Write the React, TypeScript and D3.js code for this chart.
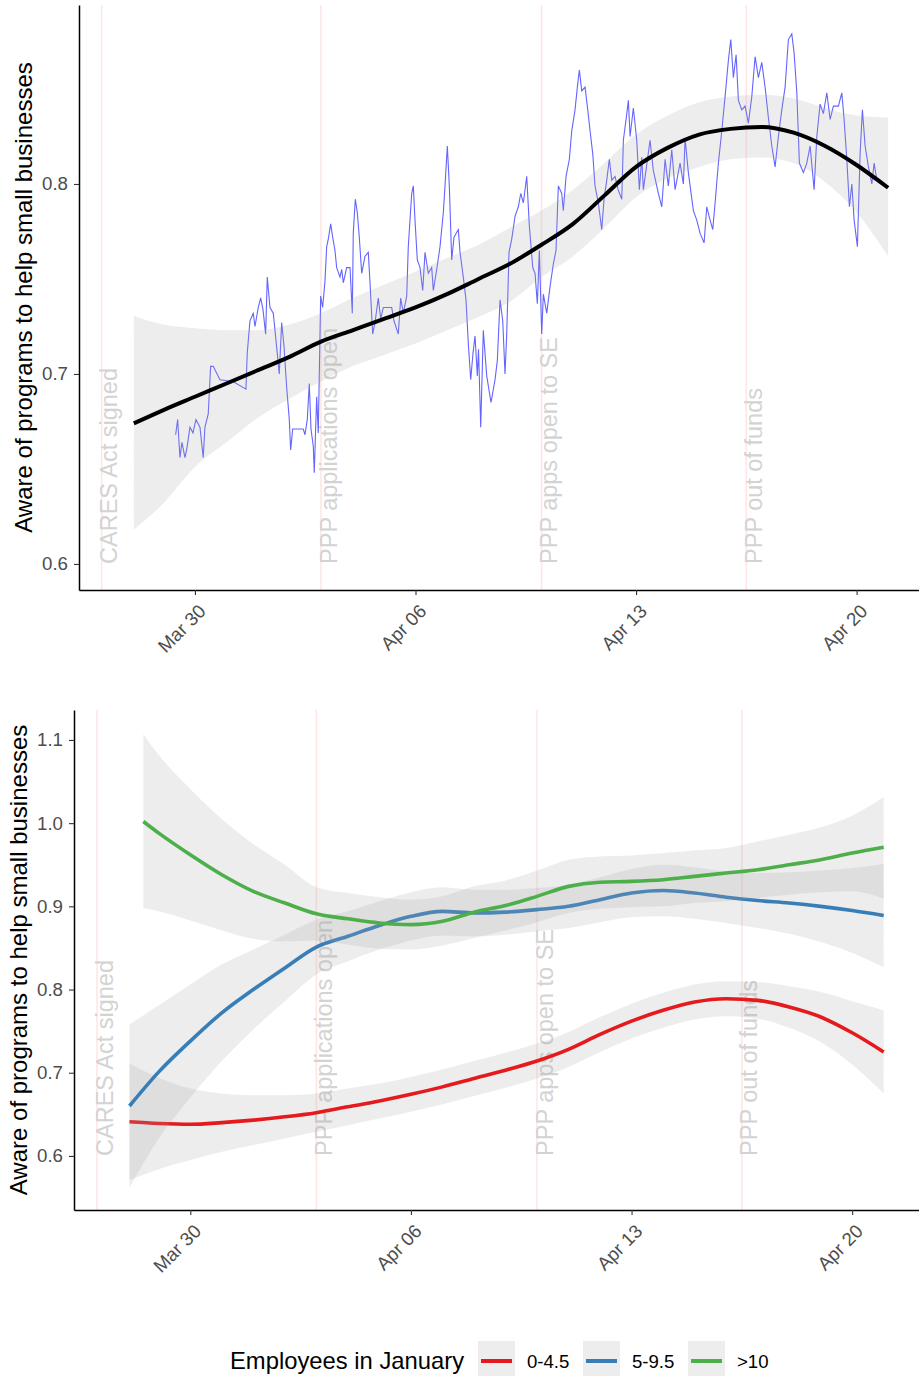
import React, { useEffect, useRef } from 'react';
import * as d3 from 'd3';

const FONT = '"Liberation Sans", Arial, Helvetica, sans-serif';
const W = 919;
const H = 1376;

// all x values are days counted from Mar 30 2020 (UTC)
const BASE = Date.UTC(2020, 2, 30);
const toDate = (d: number) => new Date(BASE + d * 864e5);

const eventLabels = ['CARES Act signed', 'PPP applications open', 'PPP apps open to SE', 'PPP out of funds'];
const eventDays = [-2.96, 4, 11, 17.5];

const tickDays = [0, 7, 14, 21];
const topYTicks = [0.6, 0.7, 0.8];
const bottomYTicks = [0.6, 0.7, 0.8, 0.9, 1.0, 1.1];
const yTitle = 'Aware of programs to help small businesses';
const legendTitle = 'Employees in January';

// raw rolling share, all respondents
const rawDays = [
  -0.613, -0.549, -0.476, -0.413, -0.317, -0.254, -0.159, -0.063, 0.032, 0.159,
  0.263, 0.317, 0.422, 0.498, 0.581, 0.794, 1.206, 1.619, 1.660, 1.746,
  1.851, 1.905, 2.010, 2.086, 2.159, 2.244, 2.295, 2.381, 2.486, 2.594,
  2.676, 2.752, 2.825, 2.911, 2.994, 3.038, 3.102, 3.438, 3.492, 3.565,
  3.629, 3.683, 3.756, 3.787, 3.863, 3.914, 3.990, 4.054, 4.127, 4.181,
  4.232, 4.308, 4.371, 4.444, 4.498, 4.603, 4.657, 4.708, 4.816, 4.921,
  4.994, 5.025, 5.089, 5.152, 5.216, 5.292, 5.397, 5.502, 5.556, 5.641,
  5.714, 5.819, 5.895, 5.978, 6.244, 6.317, 6.454, 6.530, 6.613, 6.721,
  6.771, 6.879, 6.930, 6.984, 7.057, 7.143, 7.229, 7.302, 7.406, 7.514,
  7.565, 7.673, 7.778, 7.883, 7.937, 8.010, 8.073, 8.149, 8.222, 8.359,
  8.413, 8.517, 8.603, 8.676, 8.752, 8.825, 8.889, 8.962, 9.000, 9.070,
  9.152, 9.260, 9.397, 9.524, 9.597, 9.683, 9.768, 9.841, 9.895, 9.968,
  10.054, 10.159, 10.263, 10.340, 10.422, 10.530, 10.613, 10.721, 10.794, 10.867,
  10.930, 11.006, 11.057, 11.165, 11.270, 11.375, 11.460, 11.533, 11.641, 11.692,
  11.778, 11.883, 11.959, 12.063, 12.137, 12.200, 12.276, 12.381, 12.454, 12.540,
  12.625, 12.698, 12.803, 12.911, 12.984, 13.070, 13.152, 13.229, 13.333, 13.429,
  13.546, 13.597, 13.683, 13.756, 13.810, 13.914, 14.022, 14.105, 14.181, 14.232,
  14.444, 14.549, 14.708, 14.816, 14.921, 15.025, 15.133, 15.238, 15.397, 15.502,
  15.556, 15.660, 15.819, 15.927, 16.032, 16.159, 16.244, 16.349, 16.435, 16.508,
  16.613, 16.721, 16.825, 16.930, 17.006, 17.089, 17.175, 17.248, 17.356, 17.460,
  17.565, 17.673, 17.778, 17.883, 17.990, 18.095, 18.200, 18.308, 18.413, 18.517,
  18.625, 18.730, 18.835, 18.943, 19.016, 19.102, 19.184, 19.311, 19.419, 19.524,
  19.651, 19.737, 19.841, 19.946, 20.054, 20.159, 20.263, 20.422, 20.530, 20.603,
  20.689, 20.771, 20.848, 20.921, 21.025, 21.111, 21.184, 21.270, 21.375, 21.483,
  21.556, 21.641,
];
const rawAware = [
  0.668, 0.676, 0.656, 0.664, 0.656, 0.661, 0.672, 0.669, 0.676, 0.672,
  0.656, 0.672, 0.679, 0.704, 0.704, 0.697, 0.696, 0.692, 0.711, 0.728,
  0.732, 0.725, 0.735, 0.740, 0.734, 0.721, 0.751, 0.735, 0.732, 0.714,
  0.700, 0.727, 0.715, 0.693, 0.676, 0.660, 0.671, 0.671, 0.668, 0.676,
  0.695, 0.671, 0.662, 0.648, 0.688, 0.669, 0.741, 0.735, 0.749, 0.767,
  0.771, 0.779, 0.772, 0.765, 0.756, 0.751, 0.755, 0.748, 0.756, 0.756,
  0.732, 0.774, 0.792, 0.785, 0.772, 0.753, 0.762, 0.764, 0.748, 0.721,
  0.727, 0.740, 0.729, 0.735, 0.735, 0.728, 0.721, 0.740, 0.732, 0.741,
  0.767, 0.795, 0.799, 0.781, 0.760, 0.756, 0.744, 0.764, 0.753, 0.756,
  0.744, 0.755, 0.767, 0.785, 0.799, 0.820, 0.799, 0.760, 0.772, 0.776,
  0.764, 0.751, 0.739, 0.716, 0.697, 0.711, 0.720, 0.699, 0.713, 0.672,
  0.723, 0.699, 0.685, 0.697, 0.707, 0.739, 0.728, 0.700, 0.721, 0.764,
  0.771, 0.783, 0.788, 0.795, 0.790, 0.804, 0.778, 0.756, 0.753, 0.737,
  0.765, 0.721, 0.742, 0.732, 0.746, 0.758, 0.765, 0.799, 0.795, 0.786,
  0.804, 0.813, 0.828, 0.839, 0.851, 0.860, 0.849, 0.851, 0.841, 0.828,
  0.816, 0.799, 0.790, 0.776, 0.792, 0.802, 0.813, 0.802, 0.804, 0.797,
  0.792, 0.823, 0.834, 0.844, 0.825, 0.840, 0.823, 0.797, 0.814, 0.797,
  0.823, 0.807, 0.795, 0.788, 0.813, 0.799, 0.818, 0.797, 0.811, 0.800,
  0.824, 0.806, 0.786, 0.781, 0.774, 0.769, 0.788, 0.781, 0.776, 0.790,
  0.811, 0.828, 0.846, 0.865, 0.876, 0.856, 0.868, 0.844, 0.839, 0.841,
  0.832, 0.846, 0.867, 0.856, 0.864, 0.851, 0.835, 0.820, 0.809, 0.825,
  0.839, 0.851, 0.876, 0.879, 0.869, 0.848, 0.811, 0.806, 0.811, 0.820,
  0.797, 0.825, 0.842, 0.837, 0.848, 0.834, 0.841, 0.841, 0.848, 0.834,
  0.813, 0.788, 0.800, 0.781, 0.767, 0.816, 0.839, 0.820, 0.809, 0.800,
  0.811, 0.802,
];

// smooth fit, all respondents
const fitDays = [-1.94, -1, 0, 1, 2, 3, 4, 5, 6, 7, 8, 9, 10, 11, 12, 13, 14, 15, 16, 17, 18, 19, 20, 21, 22];
const fitAll = [0.674, 0.681, 0.688, 0.695, 0.702, 0.709, 0.717, 0.723, 0.729, 0.735, 0.742, 0.750, 0.758, 0.768, 0.779, 0.794, 0.809, 0.819, 0.826, 0.829, 0.830, 0.827, 0.820, 0.810, 0.798];
const upperAll = [0.7305, 0.726, 0.724, 0.723, 0.723, 0.726, 0.732, 0.740, 0.747, 0.754, 0.761, 0.768, 0.777, 0.786, 0.797, 0.811, 0.826, 0.836, 0.843, 0.846, 0.847, 0.845, 0.840, 0.836, 0.835];
const lowerAll = [0.618, 0.632, 0.651, 0.664, 0.677, 0.687, 0.696, 0.704, 0.710, 0.716, 0.723, 0.730, 0.738, 0.751, 0.762, 0.777, 0.793, 0.803, 0.809, 0.813, 0.814, 0.811, 0.801, 0.785, 0.762];

// smooth fits by firm size
const groupNames = ['0-4.5', '5-9.5', '>10'];
const groupColors = ['#E41A1C', '#377EB8', '#4DAF4A'];
const sizeDays = [-1.93, -1, 0, 1, 2, 3, 4, 5, 6, 7, 8, 9, 10, 11, 12, 13, 14, 15, 16, 17, 18, 19, 20, 21, 22];
const largeDays = [-1.49, -1, 0, 1, 2, 3, 4, 5, 6, 7, 8, 9, 10, 11, 12, 13, 14, 15, 16, 17, 18, 19, 20, 21, 22];

const fitSmall = [0.641, 0.639, 0.638, 0.640, 0.643, 0.647, 0.652, 0.659, 0.666, 0.674, 0.683, 0.693, 0.703, 0.714, 0.728, 0.746, 0.762, 0.775, 0.785, 0.789, 0.787, 0.779, 0.767, 0.748, 0.725];
const upperSmall = [0.711, 0.694, 0.681, 0.675, 0.673, 0.673, 0.675, 0.681, 0.687, 0.695, 0.704, 0.714, 0.724, 0.735, 0.749, 0.767, 0.783, 0.796, 0.806, 0.810, 0.809, 0.804, 0.797, 0.786, 0.775];
const lowerSmall = [0.571, 0.584, 0.595, 0.605, 0.613, 0.621, 0.629, 0.637, 0.645, 0.653, 0.662, 0.672, 0.682, 0.693, 0.707, 0.725, 0.741, 0.754, 0.764, 0.768, 0.765, 0.754, 0.737, 0.710, 0.675];

const fitMid = [0.660, 0.701, 0.738, 0.772, 0.800, 0.826, 0.851, 0.864, 0.877, 0.888, 0.894, 0.892, 0.893, 0.896, 0.900, 0.908, 0.916, 0.919, 0.916, 0.911, 0.907, 0.904, 0.900, 0.895, 0.889];
const upperMid = [0.758, 0.781, 0.806, 0.830, 0.848, 0.866, 0.884, 0.894, 0.906, 0.917, 0.923, 0.920, 0.920, 0.922, 0.926, 0.935, 0.945, 0.950, 0.947, 0.942, 0.940, 0.941, 0.943, 0.946, 0.951];
const lowerMid = [0.562, 0.621, 0.670, 0.714, 0.752, 0.786, 0.818, 0.834, 0.848, 0.859, 0.865, 0.864, 0.866, 0.870, 0.874, 0.881, 0.887, 0.888, 0.885, 0.880, 0.874, 0.867, 0.857, 0.844, 0.827];

const fitLarge = [1.002, 0.988, 0.962, 0.938, 0.918, 0.904, 0.891, 0.885, 0.880, 0.878, 0.882, 0.893, 0.901, 0.912, 0.924, 0.929, 0.930, 0.932, 0.936, 0.940, 0.944, 0.950, 0.956, 0.964, 0.971];
const upperLarge = [1.107, 1.082, 1.041, 1.005, 0.975, 0.950, 0.923, 0.916, 0.911, 0.908, 0.912, 0.924, 0.931, 0.943, 0.956, 0.960, 0.961, 0.964, 0.967, 0.970, 0.978, 0.986, 0.995, 1.009, 1.031];
const lowerLarge = [0.898, 0.894, 0.883, 0.871, 0.861, 0.858, 0.859, 0.854, 0.849, 0.848, 0.853, 0.862, 0.871, 0.881, 0.892, 0.897, 0.899, 0.900, 0.904, 0.906, 0.910, 0.914, 0.917, 0.918, 0.909];

const RIBBON = '#a6a6a6';
const RIBBON_OPACITY = 0.2;

type Pt = { t: Date; v: number; lo: number; hi: number };

const makeRows = (days: number[], fit: number[], lo: number[], hi: number[]): Pt[] =>
  days.map((d, i) => ({ t: toDate(d), v: fit[i], lo: lo[i], hi: hi[i] }));

const App = () => {
  const svgRef = useRef<SVGSVGElement>(null);

  useEffect(() => {
    const svg = d3.select(svgRef.current);
    svg.selectAll('*').remove();
    svg.attr('font-family', FONT);

    // Panel scales
    const xTop = d3.scaleUtc().domain([toDate(-3.68), toDate(22.98)]).range([79, W]);
    const yTop = d3.scaleLinear().domain([0.5863, 0.8942]).range([590, 5]);
    const xBot = d3.scaleUtc().domain([toDate(-3.69), toDate(23.12)]).range([74, W]);
    const yBot = d3.scaleLinear().domain([0.535, 1.136]).range([1210, 710]);

    const drawEvents = (g, x, y, top, bottom) => {
      eventDays.forEach((d) => {
        const ex = x(toDate(d));
        g.append('line')
          .attr('x1', ex).attr('x2', ex)
          .attr('y1', top).attr('y2', bottom)
          .attr('stroke', '#ffe4e4')
          .attr('stroke-width', 1.5);
      });
      eventDays.forEach((d, i) => {
        const ex = x(toDate(d));
        g.append('text')
          .attr('transform', `translate(${ex + 15.6},${y(0.6)}) rotate(-90)`)
          .attr('font-size', 23.5)
          .attr('fill', '#d3d3d3')
          .text(eventLabels[i]);
      });
    };

    const drawSmooth = (g, x, y, rows: Pt[], color: string, width: number) => {
      const area = d3.area<Pt>()
        .x(d => x(d.t))
        .y0(d => y(d.lo))
        .y1(d => y(d.hi))
        .curve(d3.curveMonotoneX);
      const line = d3.line<Pt>()
        .x(d => x(d.t))
        .y(d => y(d.v))
        .curve(d3.curveMonotoneX);
      g.append('path')
        .datum(rows)
        .attr('d', area)
        .attr('fill', RIBBON)
        .attr('fill-opacity', RIBBON_OPACITY);
      g.append('path')
        .datum(rows)
        .attr('d', line)
        .attr('fill', 'none')
        .attr('stroke', color)
        .attr('stroke-width', width);
    };

    const drawAxes = (g, x, y, yTicks: number[], bottom: number, left: number, titleX: number) => {
      const xa = g.append('g')
        .attr('transform', `translate(0,${bottom})`)
        .call(d3.axisBottom(x)
          .tickValues(tickDays.map(toDate))
          .tickFormat(d3.utcFormat('%b %d'))
          .tickSize(5)
          .tickSizeOuter(0));
      xa.attr('font-size', 18.7).attr('font-family', FONT);
      xa.select('.domain').attr('stroke', '#000').attr('stroke-width', 1.5);
      xa.selectAll('.tick line').attr('stroke', '#333').attr('stroke-width', 1.1);
      xa.selectAll('.tick text')
        .attr('x', 2)
        .attr('y', 13)
        .attr('dy', '0.72em')
        .attr('text-anchor', 'end')
        .attr('transform', 'rotate(-45, 2, 13)')
        .attr('fill', '#4d4d4d');

      const ya = g.append('g')
        .attr('transform', `translate(${left},0)`)
        .call(d3.axisLeft(y)
          .tickValues(yTicks)
          .tickFormat(d3.format('.1f'))
          .tickSize(5)
          .tickPadding(6)
          .tickSizeOuter(0));
      ya.attr('font-size', 18.7).attr('font-family', FONT);
      ya.select('.domain').attr('stroke', '#000').attr('stroke-width', 1.5);
      ya.selectAll('.tick line').attr('stroke', '#333').attr('stroke-width', 1.1);
      ya.selectAll('.tick text').attr('fill', '#4d4d4d');

      const [y0, y1] = y.range();
      g.append('text')
        .attr('transform', `translate(${titleX},${(y0 + y1) / 2}) rotate(-90)`)
        .attr('text-anchor', 'middle')
        .attr('font-size', 24)
        .attr('fill', '#000')
        .text(yTitle);
    };

    // ---- top panel: all respondents
    const top = svg.append('g');
    drawEvents(top, xTop, yTop, 5, 590);

    const raw = rawDays.map((d, i) => ({ t: toDate(d), v: rawAware[i] })).filter(d => d.v != null);
    top.append('path')
      .datum(raw)
      .attr('d', d3.line<any>().x(d => xTop(d.t)).y(d => yTop(d.v)))
      .attr('fill', 'none')
      .attr('stroke', '#6464ff')
      .attr('stroke-width', 1.1);

    drawSmooth(top, xTop, yTop, makeRows(fitDays, fitAll, lowerAll, upperAll), '#000', 4);
    drawAxes(top, xTop, yTop, topYTicks, 590, 79, 32);

    // ---- bottom panel: by employees in January
    const bot = svg.append('g');
    drawEvents(bot, xBot, yBot, 710, 1210);

    const groups = [
      makeRows(sizeDays, fitSmall, lowerSmall, upperSmall),
      makeRows(sizeDays, fitMid, lowerMid, upperMid),
      makeRows(largeDays, fitLarge, lowerLarge, upperLarge),
    ];
    groups.forEach((rows, i) => drawSmooth(bot, xBot, yBot, rows, groupColors[i], 3.6));
    drawAxes(bot, xBot, yBot, bottomYTicks, 1210, 74, 27);

    // ---- legend
    const leg = svg.append('g');
    leg.append('text')
      .attr('x', 230)
      .attr('y', 1368.5)
      .attr('font-size', 23.8)
      .attr('fill', '#000')
      .text(legendTitle);

    const keyX = [478, 583, 688];
    groupNames.forEach((name, i) => {
      leg.append('rect')
        .attr('x', keyX[i]).attr('y', 1341)
        .attr('width', 37).attr('height', 40)
        .attr('fill', RIBBON)
        .attr('fill-opacity', RIBBON_OPACITY);
      leg.append('line')
        .attr('x1', keyX[i] + 3).attr('x2', keyX[i] + 34)
        .attr('y1', 1361).attr('y2', 1361)
        .attr('stroke', groupColors[i])
        .attr('stroke-width', 4);
      leg.append('text')
        .attr('x', keyX[i] + 49)
        .attr('y', 1367.5)
        .attr('font-size', 18.6)
        .attr('fill', '#000')
        .text(name);
    });
  }, []);

  return (
    <div style={{ position: 'absolute', left: 0, top: 0, width: W, height: H, background: '#fff' }}>
      <svg ref={svgRef} width={W} height={H} style={{ display: 'block' }}></svg>
    </div>
  );
};

export default App;
